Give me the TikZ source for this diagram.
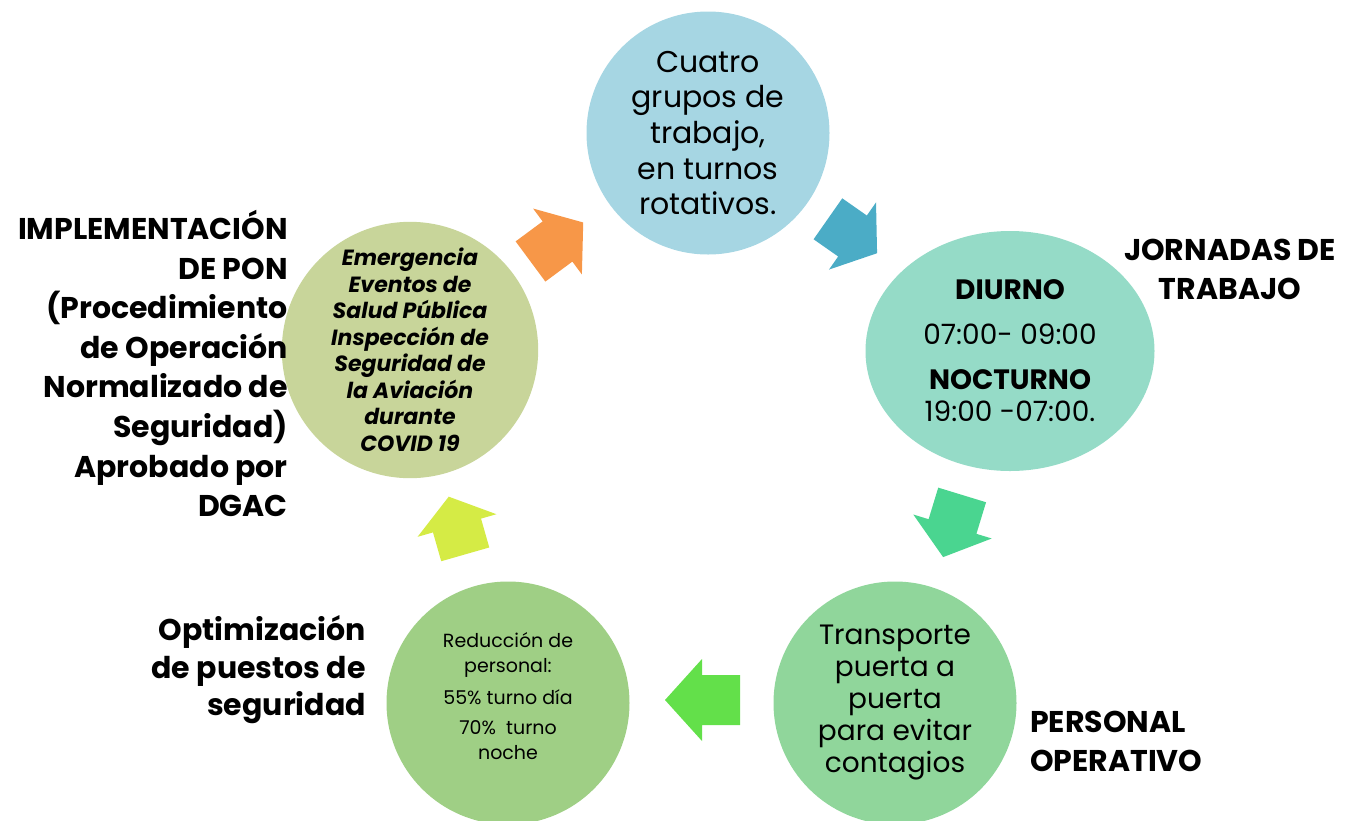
\documentclass[tikz,border=0pt]{standalone}
\usepackage{fontspec}
\setmainfont{Poppins}
\usetikzlibrary{shapes.geometric}
\definecolor{cTop}{RGB}{166,214,227}
\definecolor{cRight}{RGB}{149,219,199}
\definecolor{cBotR}{RGB}{144,214,155}
\definecolor{cBotL}{RGB}{159,207,133}
\definecolor{cLeft}{RGB}{200,213,154}
\definecolor{aOrange}{RGB}{247,151,72}
\definecolor{aBlue}{RGB}{75,172,198}
\definecolor{aGreen}{RGB}{74,213,144}
\definecolor{aBright}{RGB}{99,224,74}
\definecolor{aYellow}{RGB}{213,235,69}
% base midpoint, angle, colour, body length, head length
\newcommand\blockarrow[5]{%
  \fill[#3, shift={(#1)}, rotate=#2] (-#4,-25) -- (0,-25) -- (0,-41) -- (#5,0) -- (0,41) -- (0,25) -- (-#4,25) -- cycle;}
\begin{document}
\begin{tikzpicture}[x=1pt,y=1pt,
  bubble/.style={circle, minimum size=243pt, inner sep=0pt, align=center, text=black},
  lbl/.style={inner sep=0pt, text=black, font=\fontsize{30}{39.3}\selectfont\bfseries}]
\useasboundingbox (0,0) rectangle (1345,-820);

\node[bubble, fill=cTop, font=\fontsize{30}{35.7}\selectfont] (top) at (708,-133)
  {Cuatro\\grupos de\\trabajo,\\en turnos\\rotativos.};
\node[ellipse, minimum width=289pt, minimum height=240pt, inner sep=0pt, align=center,
  fill=cRight, font=\fontsize{28}{32}\selectfont] (right) at (1010,-351)
  {{\bfseries DIURNO}\\[13pt]07:00- 09:00\\[13pt]{\bfseries NOCTURNO}\\19:00 -07:00.};
\node[bubble, fill=cBotR, font=\fontsize{28}{32}\selectfont] (botr) at (895,-703)
  {Transporte\\puerta a\\puerta\\para evitar\\contagios};
\node[bubble, fill=cBotL, font=\fontsize{19}{25}\selectfont] (botl) at (508,-703)
  {Reducción de\\personal:\\[7pt]55\% turno día\\[5pt]70\%\ \ turno\\noche\\[-10pt]};
\node[bubble, fill=cLeft, font=\fontsize{22}{26.5}\selectfont\bfseries\itshape] (left) at (410,-350)
  {Emergencia\\Eventos de\\Salud Pública\\Inspección de\\Seguridad de\\la Aviación\\durante\\COVID 19};

\blockarrow{557.5,-241.5}{36.5}{aOrange}{33.6}{32}
\blockarrow{852.5,-236}{-35}{aBlue}{30}{30}
\blockarrow{952.5,-526.5}{-107}{aGreen}{33}{32}
\blockarrow{702,-700}{180}{aBright}{38}{37}
\blockarrow{457,-525.5}{106}{aYellow}{30}{30}

\node[lbl, align=right, anchor=south east, font=\fontsize{30}{39.6}\selectfont\bfseries] (impl) at (288,-517)
  {IMPLEMENTACIÓN\\DE PON\\(Procedimiento\\de Operación\\Normalizado de\\Seguridad)\\Aprobado por\\DGAC};
\node[lbl, align=right, anchor=south east, font=\fontsize{30}{37.5}\selectfont\bfseries] (opt) at (366,-724)
  {Optimización\\de puestos de\\seguridad};
\node[lbl, align=center, anchor=south] (jorn) at (1230,-300) {JORNADAS DE\\TRABAJO};
\node[lbl, align=left, anchor=south west] (pers) at (1030,-772) {PERSONAL\\OPERATIVO};
\end{tikzpicture}
\end{document}
